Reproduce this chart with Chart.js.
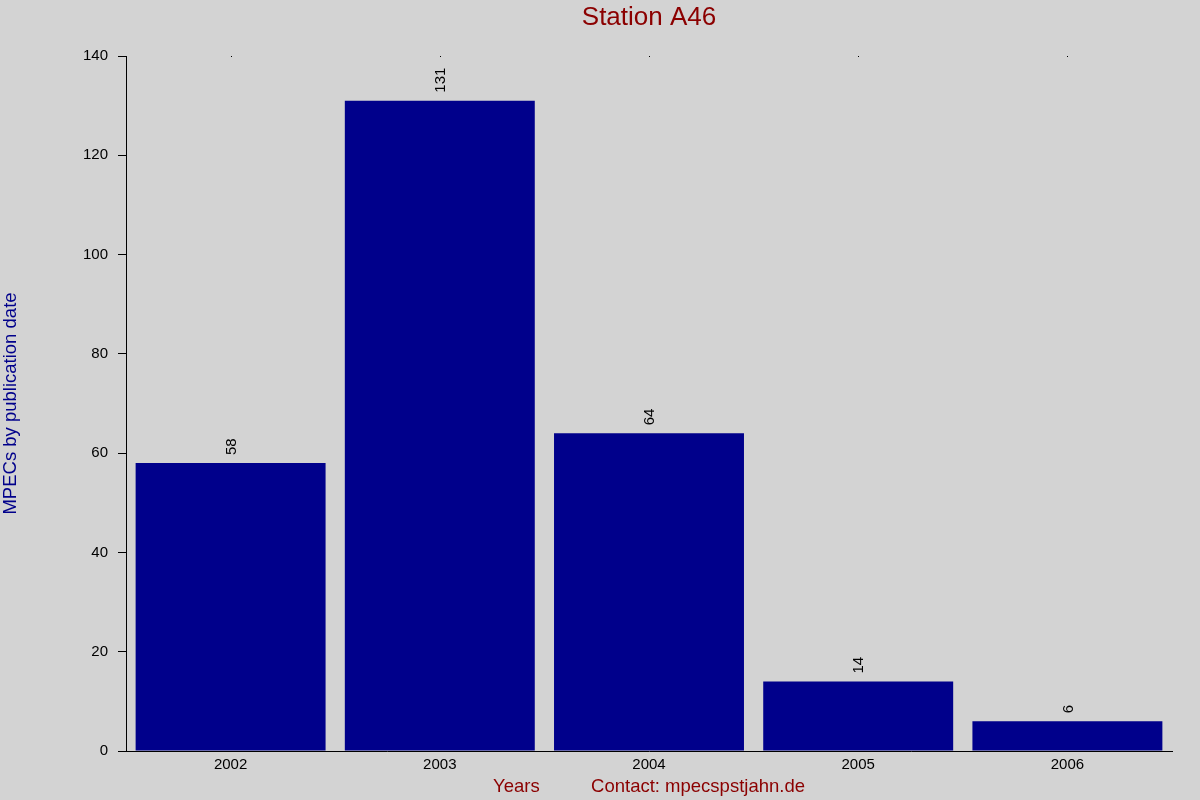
<!DOCTYPE html>
<html>
<head>
<meta charset="utf-8">
<script src="https://cdn.jsdelivr.net/npm/chart.js@4.4.0/dist/chart.umd.min.js"></script>
<style>
  html, body { margin: 0; padding: 0; background: #d3d3d3; }
  #wrap { width: 1200px; height: 800px; }
</style>
</head>
<body>
<div id="wrap"><canvas id="barChart" width="1200" height="800"></canvas></div>
<script>
const years = ['2002', '2003', '2004', '2005', '2006'];
const mpecs = [58, 131, 64, 14, 6];
const yTicks = [0, 20, 40, 60, 80, 100, 120, 140];

const FONT = '"Liberation Sans", Arial, sans-serif';

// titel und werte ueber den balken
const extras = {
    id: 'extras',
    beforeDraw(chart) {
        const c = chart.ctx;
        c.save();
        c.fillStyle = '#d3d3d3';
        c.fillRect(0, 0, chart.width, chart.height);
        c.restore();
    },
    afterDraw(chart) {
        const c = chart.ctx;
        const area = chart.chartArea;
        c.save();
        c.fillStyle = '#8b0000';
        c.font = '26px ' + FONT;
        c.textAlign = 'center';
        c.textBaseline = 'middle';
        c.fillText('Station A46', (area.left + area.right) / 2, 18);

        // kleine punkte oben
        c.fillStyle = '#000';
        const xs = chart.scales.x;
        years.forEach((y, i) => {
            c.fillRect(Math.round(xs.getPixelForValue(i)), area.top, 1, 1);
        });

        c.font = '15px ' + FONT;
        c.textAlign = 'left';
        c.textBaseline = 'middle';
        chart.getDatasetMeta(0).data.forEach((bar, i) => {
            c.save();
            c.translate(bar.x + 1, bar.y - 8);
            c.rotate(-Math.PI / 2);
            c.fillText(String(mpecs[i]), 0, 0);
            c.restore();
        });
        c.restore();
    }
};

const ctx = document.getElementById('barChart').getContext('2d');
const barChart = new Chart(ctx, {
    type: 'bar',
    data: {
        labels: years,
        datasets: [{
            data: mpecs,
            backgroundColor: '#00008b',
            borderWidth: 0,
            inflateAmount: 0,
            categoryPercentage: 1,
            barPercentage: 0.908
        }]
    },
    options: {
        responsive: false,
        animation: false,
        layout: { padding: { top: 56, right: 28, left: 0, bottom: 0 } },
        plugins: {
            legend: { display: false },
            title: { display: false },
            tooltip: { enabled: false }
        },
        scales: {
            x: {
                grid: { display: false, drawTicks: false },
                border: { display: true, color: '#000', width: 1 },
                ticks: { color: '#000', font: { family: FONT, size: 15 }, padding: 5 },
                title: {
                    display: true,
                    text: 'Years          Contact: mpecspstjahn.de',
                    color: '#8b0000',
                    font: { family: FONT, size: 18.5 },
                    padding: { top: 4, bottom: 2 }
                },
                afterFit(scale) { scale.height = 49; }
            },
            y: {
                min: 0,
                max: 140,
                afterBuildTicks(scale) { scale.ticks = yTicks.map(v => ({ value: v })); },
                grid: { drawOnChartArea: false, drawTicks: true, tickLength: 8, color: '#000' },
                border: { display: true, color: '#000', width: 1 },
                ticks: { color: '#000', font: { family: FONT, size: 15 }, padding: 10 },
                title: {
                    display: true,
                    text: 'MPECs by publication date',
                    color: '#00008b',
                    font: { family: FONT, size: 18.5 },
                    padding: { top: 0, bottom: 0 }
                },
                afterFit(scale) { scale.width = 126; }
            }
        }
    },
    plugins: [extras]
});
</script>
</body>
</html>
